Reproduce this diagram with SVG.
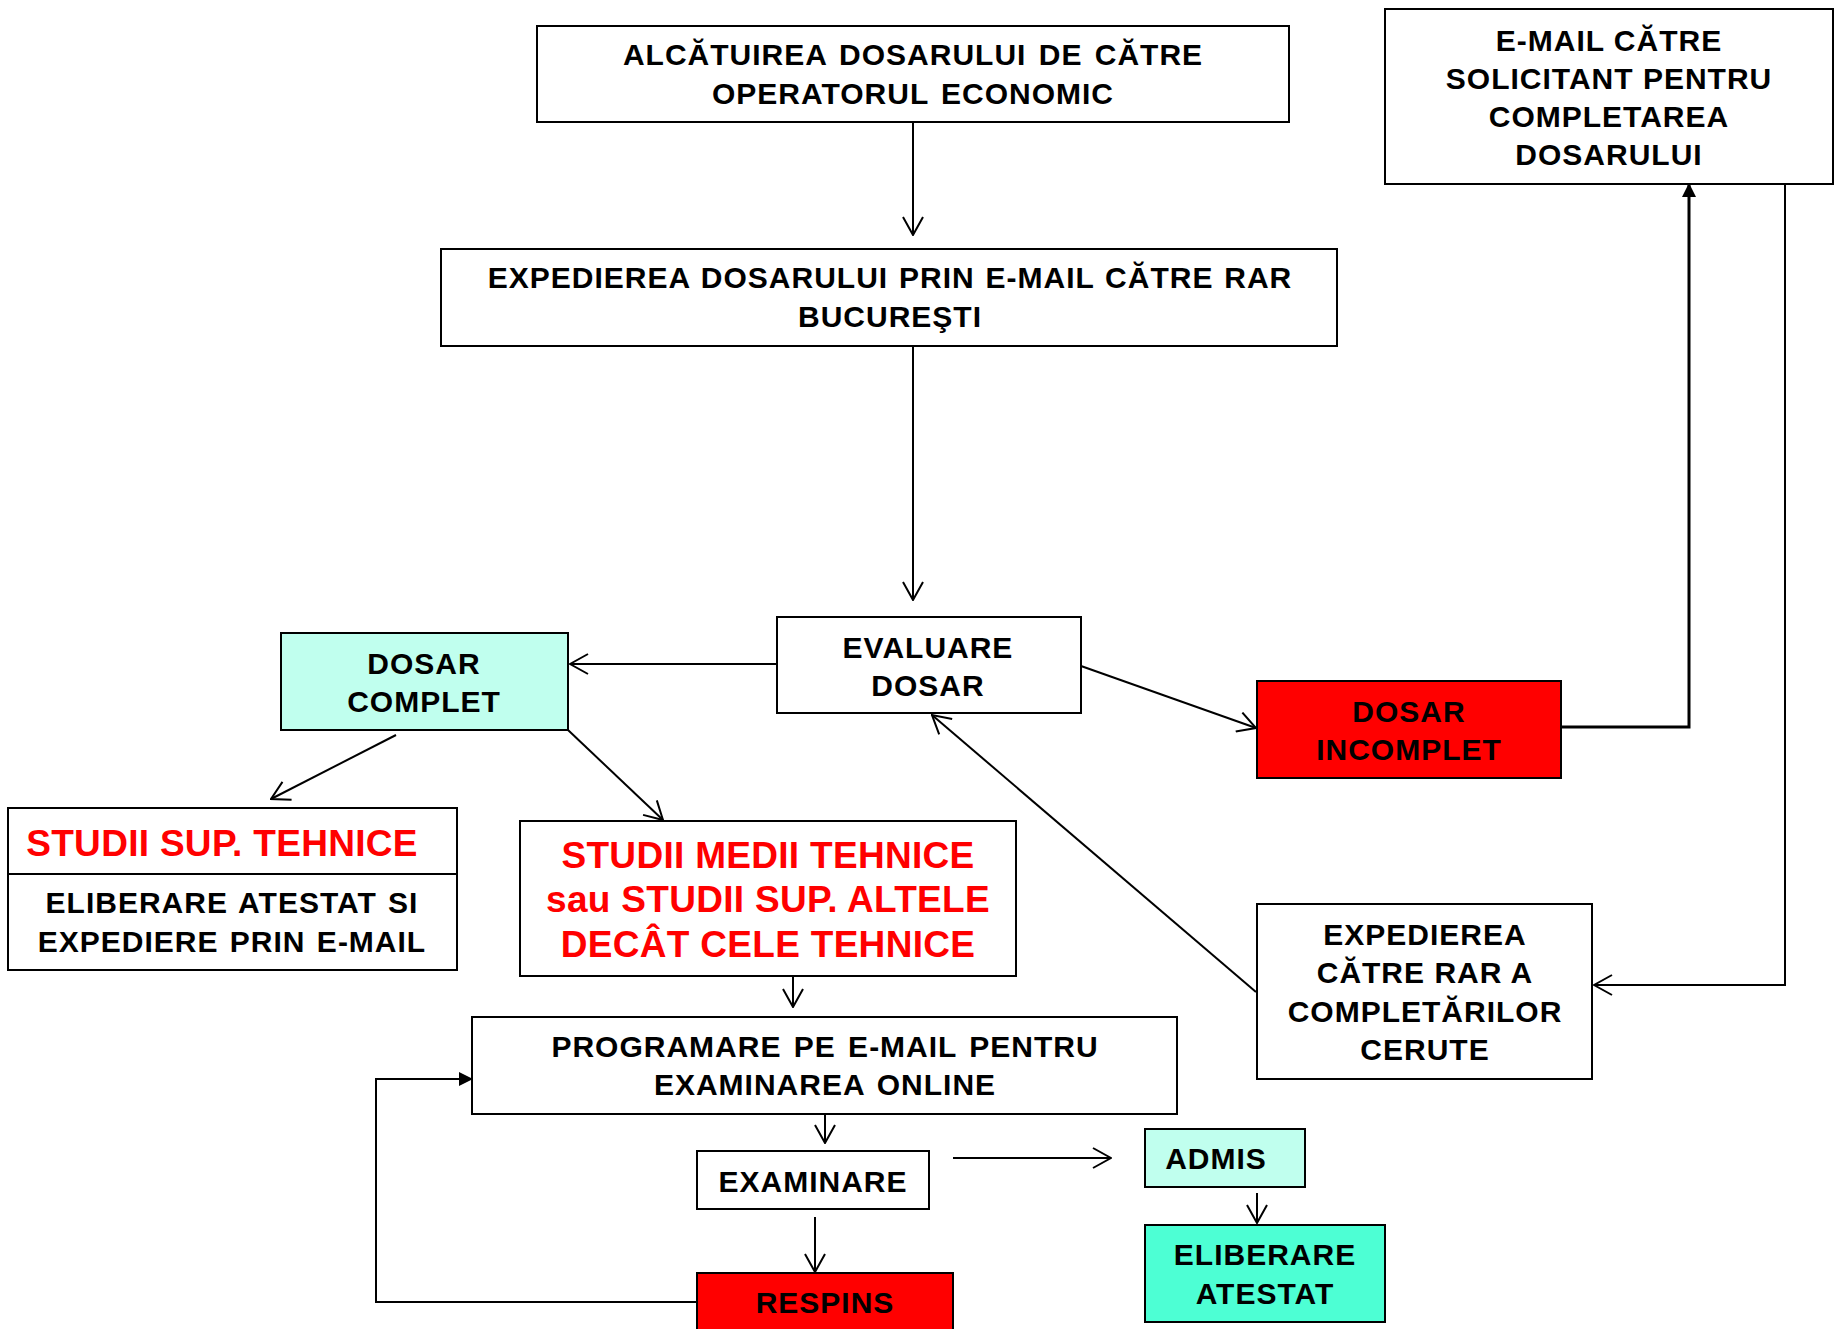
<svg xmlns="http://www.w3.org/2000/svg" width="1839" height="1329" viewBox="0 0 1839 1329">
<defs>
<style>
.box{stroke:#000;stroke-width:2;fill:#fff}
.red{fill:#ff0000}
.aqua{fill:#c0ffee}
.green{fill:#4dffd4}
text{font-family:"Liberation Sans",Arial,sans-serif;font-weight:bold;font-size:30px;fill:#000;text-anchor:middle;letter-spacing:1px}
.rt{fill:#ff0000;font-size:37px;letter-spacing:0.3px}
.c{stroke:#000;stroke-width:2;fill:none}
.ct{stroke:#000;stroke-width:3;fill:none}
</style>
<marker id="open" viewBox="0 0 20 22" refX="19" refY="11" markerWidth="20" markerHeight="22" markerUnits="userSpaceOnUse" orient="auto">
<path d="M1,1 L19,11 L1,21" fill="none" stroke="#000" stroke-width="2"/>
</marker>
<marker id="fill" viewBox="0 0 14 14" refX="13" refY="7" markerWidth="14" markerHeight="14" markerUnits="userSpaceOnUse" orient="auto">
<path d="M0,0 L14,7 L0,14 Z" fill="#000"/>
</marker>
</defs>
<rect width="1839" height="1329" fill="#fff"/>

<g id="connectors">
<line class="c" x1="913" y1="122" x2="913" y2="235" marker-end="url(#open)"/>
<line class="c" x1="913" y1="346" x2="913" y2="600" marker-end="url(#open)"/>
<line class="c" x1="776" y1="664" x2="570" y2="664" marker-end="url(#open)"/>
<line class="c" x1="1081" y1="666" x2="1256" y2="728" marker-end="url(#open)"/>
<line class="c" x1="396" y1="735" x2="271" y2="799" marker-end="url(#open)"/>
<line class="c" x1="568" y1="730" x2="663" y2="820" marker-end="url(#open)"/>
<polyline class="ct" points="1561,727 1689,727 1689,184" marker-end="url(#fill)"/>
<polyline class="c" points="1785,183 1785,985 1594,985" marker-end="url(#open)"/>
<line class="c" x1="1256" y1="992" x2="932" y2="715" marker-end="url(#open)"/>
<line class="c" x1="793" y1="976" x2="793" y2="1007" marker-end="url(#open)"/>
<line class="c" x1="825" y1="1114" x2="825" y2="1143" marker-end="url(#open)"/>
<line class="c" x1="953" y1="1158" x2="1111" y2="1158" marker-end="url(#open)"/>
<line class="c" x1="1257" y1="1193" x2="1257" y2="1223" marker-end="url(#open)"/>
<line class="c" x1="815" y1="1217" x2="815" y2="1272" marker-end="url(#open)"/>
<polyline class="c" points="697,1302 376,1302 376,1079 472,1079" marker-end="url(#fill)"/>
</g>

<g id="n-alcatuirea">
<rect class="box" x="537" y="26" width="752" height="96"/>
<text x="913" y="65" word-spacing="3">ALCĂTUIREA DOSARULUI DE CĂTRE</text>
<text x="913" y="104" word-spacing="3">OPERATORUL ECONOMIC</text>
</g>

<g id="n-expedierea">
<rect class="box" x="441" y="249" width="896" height="97"/>
<text x="890" y="288" word-spacing="1.5">EXPEDIEREA DOSARULUI PRIN E-MAIL CĂTRE RAR</text>
<text x="890" y="327">BUCUREŞTI</text>
</g>

<g id="n-email">
<rect class="box" x="1385" y="9" width="448" height="175"/>
<text x="1609" y="51">E-MAIL CĂTRE</text>
<text x="1609" y="89">SOLICITANT PENTRU</text>
<text x="1609" y="127">COMPLETAREA</text>
<text x="1609" y="165">DOSARULUI</text>
</g>

<g id="n-evaluare">
<rect class="box" x="777" y="617" width="304" height="96"/>
<text x="928" y="658">EVALUARE</text>
<text x="928" y="696">DOSAR</text>
</g>

<g id="n-dosar-complet">
<rect class="box aqua" x="281" y="633" width="287" height="97"/>
<text x="424" y="674">DOSAR</text>
<text x="424" y="712">COMPLET</text>
</g>

<g id="n-dosar-incomplet">
<rect class="box red" x="1257" y="681" width="304" height="97"/>
<text x="1409" y="722">DOSAR</text>
<text x="1409" y="760">INCOMPLET</text>
</g>

<g id="n-studii-sup">
<rect class="box" x="8" y="808" width="449" height="162"/>
<line class="c" x1="8" y1="874" x2="457" y2="874"/>
<text class="rt" x="222" y="856">STUDII SUP. TEHNICE</text>
<text x="232" y="913" word-spacing="2">ELIBERARE ATESTAT SI</text>
<text x="232" y="952" word-spacing="2">EXPEDIERE PRIN E-MAIL</text>
</g>

<g id="n-studii-medii">
<rect class="box" x="520" y="821" width="496" height="155"/>
<text class="rt" x="768" y="868">STUDII MEDII TEHNICE</text>
<text class="rt" x="768" y="912">sau STUDII SUP. ALTELE</text>
<text class="rt" x="768" y="957">DECÂT CELE TEHNICE</text>
</g>

<g id="n-expedierea-completari">
<rect class="box" x="1257" y="904" width="335" height="175"/>
<text x="1425" y="945">EXPEDIEREA</text>
<text x="1425" y="983">CĂTRE RAR A</text>
<text x="1425" y="1022">COMPLETĂRILOR</text>
<text x="1425" y="1060">CERUTE</text>
</g>

<g id="n-programare">
<rect class="box" x="472" y="1017" width="705" height="97"/>
<text x="825" y="1057" word-spacing="3">PROGRAMARE PE E-MAIL PENTRU</text>
<text x="825" y="1095" word-spacing="3">EXAMINAREA ONLINE</text>
</g>

<g id="n-examinare">
<rect class="box" x="697" y="1151" width="232" height="58"/>
<text x="813" y="1192">EXAMINARE</text>
</g>

<g id="n-admis">
<rect class="box aqua" x="1145" y="1129" width="160" height="58"/>
<text x="1216" y="1169">ADMIS</text>
</g>

<g id="n-eliberare">
<rect class="box green" x="1145" y="1225" width="240" height="97"/>
<text x="1265" y="1265">ELIBERARE</text>
<text x="1265" y="1304">ATESTAT</text>
</g>

<g id="n-respins">
<rect class="box red" x="697" y="1273" width="256" height="70"/>
<text x="825" y="1313">RESPINS</text>
</g>
</svg>
